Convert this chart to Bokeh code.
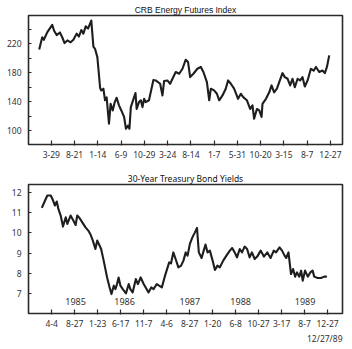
from bokeh.plotting import figure
from bokeh.layouts import column
from bokeh.models import FixedTicker, Range1d, Title, ColumnDataSource
from bokeh.embed import file_html
from bokeh.resources import INLINE
from bokeh.core.properties import value

# ---------------- data ----------------
# x = trading-day index relative to first labelled tick (each tick = 100 days)
crb_x = [-52, -39, -32, -17, 4, 12, 23, 37, 47, 57,
         69, 83, 95, 109, 119, 129, 138, 148, 158, 172,
         181, 188, 198, 210, 215, 224, 231, 238, 248, 255,
         264, 273, 281, 291, 301, 313, 321, 330, 336, 342,
         356, 362, 367, 377, 385, 392, 399, 406, 420, 439,
         449, 468, 478, 485, 499, 511, 521, 535, 550, 564,
         578, 588, 597, 611, 628, 643, 654, 669, 679, 686,
         700, 712, 722, 736, 750, 760, 772, 786, 803, 815,
         826, 841, 855, 865, 872, 884, 894, 904, 908, 923,
         937, 947, 958, 970, 980, 994, 1004, 1016, 1027, 1037,
         1047, 1059, 1070, 1080, 1090, 1102, 1116, 1128, 1138, 1152,
         1166, 1176, 1185, 1195]
crb_y = [212, 229, 225.5, 236, 246, 238, 232, 235.6, 229, 221,
         224.6, 222, 225.5, 234, 230, 239, 234, 244, 241, 252,
         216, 213, 201.6, 159, 155.6, 158, 142, 146, 109.6, 137,
         128, 139.5, 145.5, 135, 128, 119, 102.7, 107, 102.7, 132.6,
         146.4, 152, 130, 139.5, 142, 132.6, 144, 139.5, 142, 170,
         169.4, 164.8, 148.7, 168.5, 169.4, 164.8, 171.7, 181, 178.6, 185.5,
         198, 194.7, 174, 178.6, 185.5, 188, 181, 167, 142, 158,
         155.6, 151, 142, 148.7, 158, 169.4, 164.8, 158, 144, 151,
         146, 142, 130, 135, 116.5, 130, 128, 119, 137, 144,
         153, 162.5, 153, 158, 167, 179.5, 174, 171.7, 162.5, 171.7,
         160, 171.7, 169.4, 174, 161, 169.4, 185.5, 183, 188, 181,
         183, 179.5, 188, 204]
crb_ticks = [0, 100, 200, 300, 400, 500, 600, 700, 800, 900, 1000, 1100, 1200]
crb_tick_labels = ["3-29", "8-21", "1-14", "6-9", "10-29", "3-24", "8-14",
                   "1-7", "5-31", "10-20", "3-15", "8-7", "12-27"]
crb_y_major = [100, 140, 180, 220]
crb_y_minor = [120, 160, 200, 240]

bond_x = [-43, -29, -19, -4, 6, 14, 22, 29, 39, 49,
          61, 68, 82, 94, 104, 111, 121, 133, 147, 159,
          169, 179, 190, 198, 205, 215, 226, 241, 251, 260,
          270, 277, 284, 291, 299, 309, 323, 335, 342, 352,
          366, 375, 387, 400, 410, 421, 433, 443, 457, 467,
          479, 493, 511, 519, 529, 539, 551, 563, 573, 583,
          591, 601, 612, 623, 632, 640, 652, 659, 669, 678,
          688, 700, 710, 721, 731, 746, 760, 775, 785, 796,
          806, 818, 828, 839, 850, 861, 871, 883, 894, 909,
          923, 938, 952, 966, 976, 991, 1002, 1013, 1020, 1030,
          1041, 1050, 1059, 1067, 1077, 1085, 1092, 1102, 1114, 1125,
          1135, 1142, 1157, 1171, 1186, 1197]
bond_y = [11.25, 11.62, 11.87, 11.87, 11.62, 11.37, 11.57, 11.2, 10.87, 10.32,
          10.78, 10.45, 10.87, 10.62, 10.4, 10.87, 10.75, 10.53, 10.28, 10.12,
          9.92, 9.62, 9.2, 9.62, 9.45, 9.2, 8.62, 7.78, 7.32, 6.95,
          7.37, 7.2, 7.45, 7.78, 7.37, 7.2, 6.98, 7.45, 7.2, 7.03,
          7.7, 7.45, 7.78, 7.45, 7.25, 7.03, 7.28, 7.2, 7.45, 7.37,
          7.28, 7.87, 8.53, 8.48, 9.03, 8.7, 8.28, 8.37, 8.62, 9.03,
          8.87, 9.45, 9.78, 10.03, 10.25, 9.03, 8.75, 9.03, 9.42, 9.03,
          9.12, 8.62, 8.15, 8.37, 8.28, 8.62, 8.87, 9.12, 9.25, 9.03,
          8.78, 9.2, 9.03, 9.32, 9.2, 8.78, 9.03, 8.7, 8.82, 9.12,
          8.82, 9.03, 8.75, 9.12, 9.03, 9.28, 9.12, 8.87, 8.75, 9.03,
          7.95, 8.2, 7.82, 8.03, 7.82, 8.12, 7.62, 8.12, 7.82, 8.03,
          8.12, 7.82, 7.75, 7.75, 7.82, 7.82]
bond_ticks = [0, 100, 200, 300, 400, 500, 600, 700, 800, 900, 1000, 1100, 1200]
bond_tick_labels = ["4-4", "8-27", "1-23", "6-17", "11-7", "4-6", "8-27",
                    "1-20", "6-8", "10-27", "3-17", "8-7", "12-27"]
bond_y_ticks = [7, 8, 9, 10, 11, 12]
year_labels = ["1985", "1986", "1987", "1988", "1989"]
year_x = [104, 317, 601, 822, 1102]
year_y = [6.58, 6.58, 6.58, 6.58, 6.58]

# ---------------- styling helpers ----------------
FONT = "Noto Sans"
TXT = "#333333"
LINE = "#1e1e1e"


def style(p, xticks, xlabels):
    p.outline_line_color = "#2a2a2a"
    p.outline_line_width = 1.6
    p.xgrid.visible = False
    p.ygrid.visible = False
    p.background_fill_color = "white"
    p.border_fill_color = "white"
    xa = p.xaxis[0]
    xa.ticker = FixedTicker(ticks=xticks)
    xa.major_label_overrides = {t: l for t, l in zip(xticks, xlabels)}
    xa.axis_line_color = None
    xa.major_tick_in = 4
    xa.major_tick_out = 1
    xa.major_tick_line_color = "#2a2a2a"
    xa.major_tick_line_width = 1.2
    xa.minor_tick_line_color = None
    xa.major_label_standoff = 5
    xa.major_label_text_font = FONT
    xa.major_label_text_font_size = "8.5px"
    xa.major_label_text_color = TXT
    ya = p.yaxis[0]
    ya.axis_line_color = None
    ya.major_tick_in = 3
    ya.major_tick_out = 0
    ya.minor_tick_in = 3
    ya.minor_tick_out = 0
    ya.major_tick_line_color = "#2a2a2a"
    ya.minor_tick_line_color = "#2a2a2a"
    ya.major_label_standoff = 7
    ya.major_label_text_font = FONT
    ya.major_label_text_font_size = "8.5px"
    ya.major_label_text_color = TXT
    p.title.align = "center"
    p.title.text_font_style = "normal"
    p.title.text_color = "#111111"
    p.title.standoff = 2


# ---------------- top chart ----------------
p1 = figure(width=352, height=166, output_backend="svg", toolbar_location=None,
            x_range=Range1d(-98, 1252), y_range=Range1d(81, 259),
            min_border_left=28, min_border_right=10, min_border_top=15,
            min_border_bottom=22, title="CRB Energy Futures Index")
style(p1, crb_ticks, crb_tick_labels)
p1.yaxis[0].ticker = FixedTicker(ticks=crb_y_major, minor_ticks=crb_y_minor)
p1.title.text_font = "Liberation Sans"
p1.title.text_font_size = "8.5px"
p1.line(crb_x, crb_y, line_color=LINE, line_width=2.1, line_join="round")

# ---------------- bottom chart ----------------
p2 = figure(width=352, height=183, output_backend="svg", toolbar_location=None,
            x_range=Range1d(-101, 1265), y_range=Range1d(5.98, 12.42),
            min_border_left=26, min_border_right=10, min_border_top=18,
            min_border_bottom=36, title="30-Year Treasury Bond Yields")
style(p2, bond_ticks, bond_tick_labels)
p2.yaxis[0].ticker = FixedTicker(ticks=bond_y_ticks)
p2.title.text_font = FONT
p2.title.text_font_size = "8.5px"
p2.line(bond_x, bond_y, line_color=LINE, line_width=2.1, line_join="round")
src = ColumnDataSource(dict(x=year_x, y=year_y, t=year_labels))
p2.text(x="x", y="y", text="t", source=src, text_font=value(FONT),
        text_font_size="9px", text_color=TXT, text_align="center",
        text_baseline="middle")
p2.add_layout(Title(text="12/27/89", align="right", text_font=FONT,
                    text_font_size="8.5px", text_font_style="normal",
                    text_color=TXT, standoff=2), "below")

layout = column(p1, p2, spacing=0)
open("out.html", "w").write(file_html(layout, INLINE))
